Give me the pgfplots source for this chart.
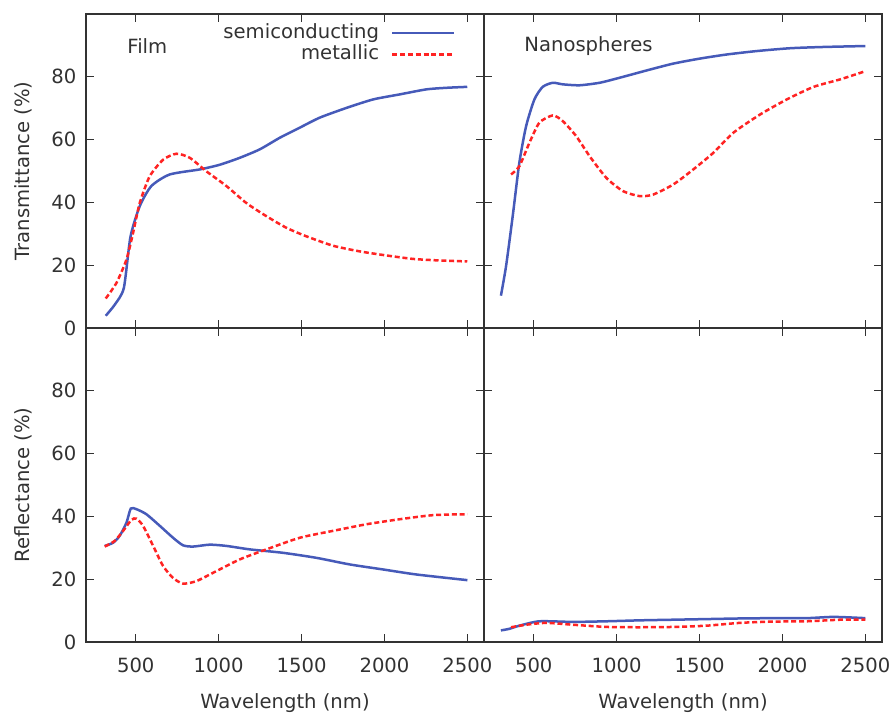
\documentclass[border=0pt]{standalone}
\usepackage{pgfplots}
\pgfplotsset{compat=1.18}
\usepackage{fontspec}
\setmainfont{DejaVu Sans}
\newcommand\fs{\fontsize{9.8}{11.5}\selectfont}
\definecolor{semiblue}{RGB}{70,90,185}
\definecolor{metred}{RGB}{255,35,35}
\definecolor{axgray}{RGB}{50,50,50}
\pgfplotsset{
  panel/.style={
    scale only axis, width=199pt, height=157pt,
    xmin=200, xmax=2600, ymin=0, ymax=100,
    xtick={500,1000,1500,2000,2500}, ytick={0,20,40,60,80},
    tick align=inside, major tick length=4pt,
    axis line style={axgray, line width=0.6pt},
    every tick/.style={axgray, line width=0.6pt},
    tick label style={font=\fs, text=axgray},
    label style={font=\fs, text=axgray},
    /pgf/number format/assume math mode=true,
    /pgf/number format/1000 sep={},
    yticklabel style={xshift=-1.3pt},
    xticklabel style={yshift=-4.2pt},
    xlabel style={at={(axis description cs:0.5,0)}, anchor=north, yshift=-22.4pt},
    ylabel style={at={([xshift=-23.4pt]axis description cs:0,0.5)}, anchor=south, rotate=0},
    legend image code/.code={\draw[#1] (0pt,0pt) -- (31pt,0pt);},
  },
  semi/.style={color=semiblue, line width=1.25pt, solid, smooth, tension=0.4},
  metal/.style={color=metred, line width=1.25pt, dash pattern=on 2.5pt off 1.4pt, smooth, tension=0.4},
}
\begin{document}
\begin{tikzpicture}
% ---------- top left: Film transmittance
\begin{axis}[panel, at={(0pt,157pt)}, anchor=south west,
  xticklabels={}, ylabel={Transmittance (\%)},
  legend style={draw=none, fill=none, at={(0.9296,0.9714)}, anchor=north east,
    inner sep=0pt, nodes={inner sep=0pt, text height=7.4pt, text depth=2.1pt, font=\fs, text=axgray},
    row sep=1.2pt, column sep=6pt},
  legend cell align=right, legend plot pos=right]
\addplot[semi] table {
x y
319 3.9
373 7.4
428 12.7
468 29
524 38.8
594 45.2
705 48.9
886 50.5
1007 52
1127 54.2
1248 56.9
1369 60.6
1489 63.8
1610 67
1771 70.1
1932 72.8
2092 74.4
2253 76
2374 76.5
2499 76.8
};
\addlegendentry{semiconducting}
\addplot[metal] table {
x y
319 9.4
383 14.3
444 21.8
484 30.3
524 39.8
584 48.3
665 53.6
745 55.5
826 54.2
926 49.9
1047 45.2
1167 39.8
1288 35.6
1409 31.9
1529 29.2
1690 26.2
1851 24.4
2012 23.1
2173 22
2334 21.5
2499 21.2
};
\addlegendentry{metallic}
\node[anchor=west, font=\fs, text=axgray, inner sep=0pt] at (rel axis cs:0.103,0.898) {Film};
\end{axis}
% ---------- top right: Nanospheres transmittance
\begin{axis}[panel, at={(199pt,157pt)}, anchor=south west,
  xticklabels={}, yticklabels={}]
\addplot[semi] table {
x y
302 10.3
333 19.7
373 35.6
413 52.6
454 64.3
504 72.8
554 76.8
615 78.1
675 77.6
776 77.3
897 78.1
1018 79.7
1179 82
1341 84.2
1502 85.8
1663 87.1
1845 88.2
2046 89.1
2248 89.5
2500 89.8
};
\addplot[metal] table {
x y
363 48.9
413 51.5
474 59
534 65.4
615 67.7
675 65.9
756 61.1
837 54.7
938 47.8
1038 43.6
1139 42
1220 42.5
1341 45.7
1462 50.5
1583 55.8
1704 62.2
1865 68
2026 72.8
2188 76.8
2349 79.2
2500 81.8
};
\node[anchor=west, font=\fs, text=axgray, inner sep=0pt] at (rel axis cs:0.1005,0.898) {Nanospheres};
\end{axis}
% ---------- bottom left: Film reflectance
\begin{axis}[panel, at={(0pt,0pt)}, anchor=south west,
  xlabel={Wavelength (nm)}, ylabel={Reflectance (\%)}]
\addplot[semi] table {
x y
313 30.6
363 31.6
403 33.8
444 38
470 42.5
504 42.3
564 40.7
645 37
725 33.2
785 30.8
846 30.4
946 31
1047 30.6
1188 29.5
1389 28.4
1590 26.8
1791 24.7
1992 23.1
2193 21.5
2500 19.7
};
\addplot[metal] table {
x y
313 30.4
373 32.2
424 35.4
474 38.9
504 39.3
544 37
605 30.6
665 24.2
725 20.4
785 18.6
866 19.4
987 22.6
1127 26.3
1288 29.5
1489 33.2
1690 35.4
1891 37.5
2092 39.1
2293 40.4
2500 40.7
};
\end{axis}
% ---------- bottom right: Nanospheres reflectance
\begin{axis}[panel, at={(199pt,0pt)}, anchor=south west,
  xlabel={Wavelength (nm)}, yticklabels={}]
\addplot[semi] table {
x y
302 3.7
353 4.2
413 5.2
534 6.6
736 6.4
938 6.6
1139 6.9
1341 7.1
1542 7.3
1744 7.5
1946 7.6
2147 7.6
2308 8.0
2500 7.6
};
\addplot[metal] table {
x y
363 4.7
454 5.5
575 6.1
736 5.5
938 4.8
1139 4.7
1341 4.8
1542 5.2
1744 6.1
1946 6.5
2147 6.6
2349 7.1
2500 7.1
};
\end{axis}
\pgfresetboundingbox
\path[use as bounding box] (-43pt,-36pt) rectangle (403.5pt,321pt);
\end{tikzpicture}
\end{document}
